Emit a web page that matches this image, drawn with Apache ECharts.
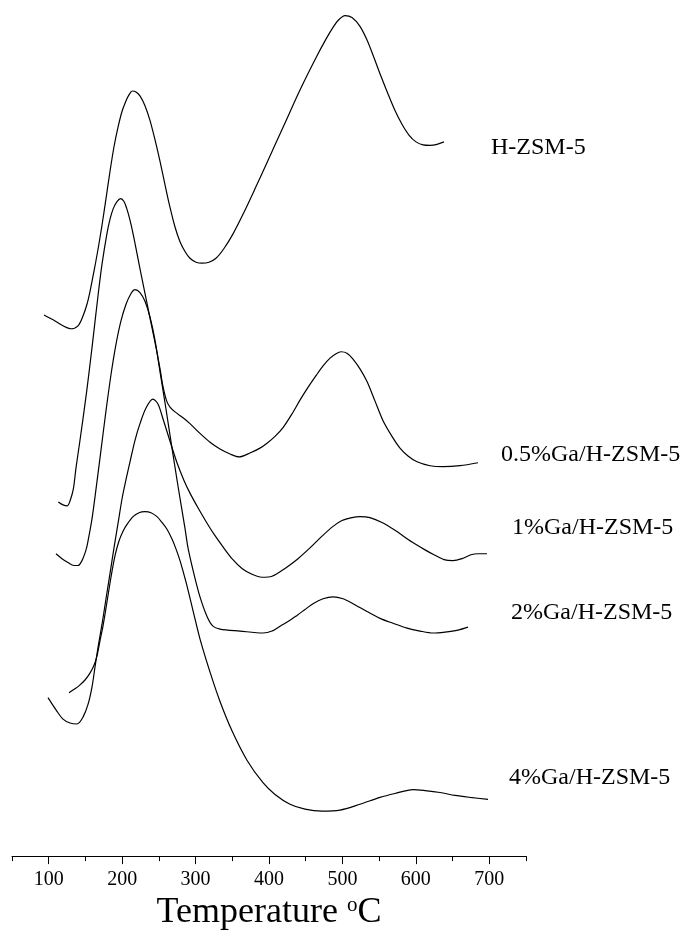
<!DOCTYPE html>
<html>
<head>
<meta charset="utf-8">
<script src="https://cdn.jsdelivr.net/npm/echarts@6/dist/echarts.min.js"></script>
<style>
html,body{margin:0;padding:0;background:#fff;}
#chart{width:688px;height:936px;}
</style>
</head>
<body>
<div id="chart"></div>
<script>
// Temperature (°C) vs TPD signal (arbitrary, offset units)
const seriesNames = ['H-ZSM-5', '0.5%Ga/H-ZSM-5', '1%Ga/H-ZSM-5', '2%Ga/H-ZSM-5', '4%Ga/H-ZSM-5'];

const hzsm5 = [[93.6,553],[108.6,547],[119.5,542],[130.4,539],[139.9,542],[146.7,552],[152.1,564],[156.2,577],[161.7,598],[167.1,620],[172.6,645],[178.0,672],[183.5,700],[188.9,725],[194.4,745],[199.8,761],[205.3,772],[209.3,778],[213.8,782],[218.9,781],[224.3,777],[231.1,767],[237.9,752],[244.8,732],[251.6,710],[258.4,686],[265.2,663],[272.0,643],[278.8,628],[285.6,618],[292.4,611],[300.6,607],[308.8,606],[318.3,607],[327.8,611],[338.7,621],[351.0,636],[364.6,656],[380.9,682],[398.6,711],[420.4,747],[442.2,783],[464.0,816],[477.6,835],[487.2,847],[494.0,854],[503.5,859],[513.0,857],[523.9,848],[533.5,834],[543.0,816],[552.5,797],[562.1,779],[571.6,762],[581.1,748],[590.6,737],[600.2,730],[609.7,727],[619.3,726.5],[628.8,727.5],[638.3,730]];

const ga05 = [[113.1,362],[119.5,359],[125.3,358],[129.0,363],[133.5,375],[137.2,397],[142.6,425],[151.7,475],[159.0,520],[167.5,575],[172.6,605],[179.0,635],[183.5,651],[188.0,662],[193.0,669],[198.0,672],[202.5,669],[206.2,662],[210.7,650],[215.2,635],[220.2,616],[225.7,595],[232.5,570],[239.3,545],[246.1,520],[251.6,498],[255.6,480],[260.7,465],[265.2,459],[272.0,454],[282.9,448],[292.4,442],[306.0,432],[319.7,423],[333.3,416],[346.9,411],[359.2,408],[374.1,412],[387.7,417],[397.3,422],[408.2,429],[419.1,438],[431.3,452],[442.2,466],[453.1,479],[464.0,491],[473.6,501],[483.1,509],[491.3,513.5],[498.1,515.5],[506.2,514],[514.4,508],[523.9,498],[533.5,485],[544.4,465],[555.3,445],[567.5,429],[578.4,417],[589.3,409],[601.6,403],[619.3,399],[637.0,398],[660.1,399],[684.6,402]];

const ga1 = [[99.0,162],[111.3,148],[119.5,140],[129.0,136],[138.5,135],[146.7,142],[153.5,155],[159.0,173],[163.0,193],[167.1,213],[172.6,237],[178.0,263],[183.5,289],[188.9,315],[194.4,340],[199.8,365],[205.3,385],[210.7,403],[217.5,425],[224.3,442],[232.5,458],[242.0,467],[248.8,462],[255.6,447],[265.2,424],[274.7,402],[284.2,384],[292.4,371],[303.3,356],[314.2,342],[325.1,329],[337.4,316],[349.6,304],[363.2,294],[376.9,288],[390.5,285],[404.1,286],[421.8,294],[439.5,304],[455.8,315],[472.2,327],[487.2,337],[499.4,343],[513.0,346],[523.9,347],[537.5,346],[553.9,341],[571.6,333],[594.8,321],[612.5,313],[624.7,308],[638.3,303],[650.6,302],[662.9,304],[675.1,308],[684.6,309],[696.9,309]];

const ga2 = [[109.9,309],[118.1,304],[126.3,300],[134.4,297],[139.9,297],[145.3,302],[150.8,313],[153.5,322],[159.0,345],[164.4,375],[171.2,415],[178.0,455],[184.8,492],[191.6,523],[198.4,547],[205.3,564],[212.1,575],[217.5,579],[224.3,576],[231.1,567],[237.9,551],[244.8,527],[251.6,495],[259.7,457],[267.9,417],[276.1,378],[285.6,335],[289.7,315],[297.9,288],[306.0,265],[315.6,245],[323.7,235],[333.3,232],[360.5,230],[391.8,228],[404.1,230],[415.0,235],[428.6,241],[438.1,246],[449.0,252],[459.9,258],[473.6,263],[487.2,265],[500.8,263],[514.4,258],[533.5,250],[551.2,243],[568.9,238],[588.0,233],[605.7,230],[623.4,228],[639.7,229],[657.4,231],[671.0,234]];

const ga4 = [[127.6,167],[135.8,171],[142.6,175],[149.4,180],[156.2,187],[161.7,195],[165.8,205],[169.8,220],[173.9,235],[179.4,260],[184.8,285],[190.3,307],[195.7,322],[201.2,332],[206.6,339],[214.8,347],[223.0,351],[231.1,352],[239.3,351],[247.5,347],[254.3,341],[261.1,334],[267.9,324],[273.3,314],[278.8,302],[287.0,280],[296.5,251],[306.0,222],[319.7,188],[333.3,158],[349.6,128],[370.0,98],[391.8,75],[408.2,63],[428.6,53],[449.0,48],[472.2,46],[496.7,47],[523.9,53],[551.2,60],[571.6,64],[596.1,68],[612.5,67],[632.9,65],[653.3,62],[673.7,60],[698.3,58]];

const majorTicks = [100, 200, 300, 400, 500, 600, 700];
const minorTicks = [50, 150, 250, 350, 450, 550, 650, 750];

const FONT = "'Liberation Serif', 'Times New Roman', serif";
const chart = echarts.init(document.getElementById('chart'), null, {renderer: 'canvas'});

const allData = [hzsm5, ga05, ga1, ga2, ga4];
const lineSeries = allData.map((d, i) => ({
  name: seriesNames[i],
  type: 'line',
  data: d,
  smooth: 0.3,
  symbol: 'none',
  lineStyle: {color: '#000', width: 1.2},
  xAxisIndex: 0,
  yAxisIndex: 0
}));

const labelPos = [[491,148],[501,455],[512,528],[511,613],[509,778]];

chart.setOption({
  animation: false,
  backgroundColor: '#fff',
  grid: {left: 12, right: 162, top: 0, bottom: 61, containLabel: false},
  xAxis: [{
    type: 'value', min: 50, max: 750, position: 'bottom',
    axisLine: {show: true, lineStyle: {color: '#000', width: 1}},
    axisTick: {show: true, customValues: majorTicks, length: 8, lineStyle: {color: '#000', width: 1}},
    axisLabel: {show: true, customValues: majorTicks, margin: 14, color: '#000', fontSize: 20, fontFamily: FONT},
    splitLine: {show: false},
    name: '{a|Temperature }{b|o}{a|C}',
    nameLocation: 'middle',
    nameGap: 29,
    nameTextStyle: {
      color: '#000', fontFamily: FONT, fontSize: 36,
      rich: {
        a: {fontSize: 36, fontFamily: FONT, color: '#000'},
        b: {fontSize: 21, fontFamily: FONT, color: '#000', verticalAlign: 'top', lineHeight: 11}
      }
    }
  }, {
    type: 'value', min: 50, max: 750, position: 'bottom', gridIndex: 0,
    axisLine: {show: false},
    axisTick: {show: true, customValues: minorTicks, length: 5, lineStyle: {color: '#000', width: 1}},
    axisLabel: {show: false},
    splitLine: {show: false}
  }],
  yAxis: {type: 'value', min: 0, max: 875, show: false},
  graphic: seriesNames.map((n, i) => ({
    type: 'text',
    x: labelPos[i][0], y: labelPos[i][1],
    style: {text: n, fontSize: 24, fontFamily: FONT, fill: '#000', verticalAlign: 'middle', align: 'left'}
  })),
  series: lineSeries
});
</script>
</body>
</html>
